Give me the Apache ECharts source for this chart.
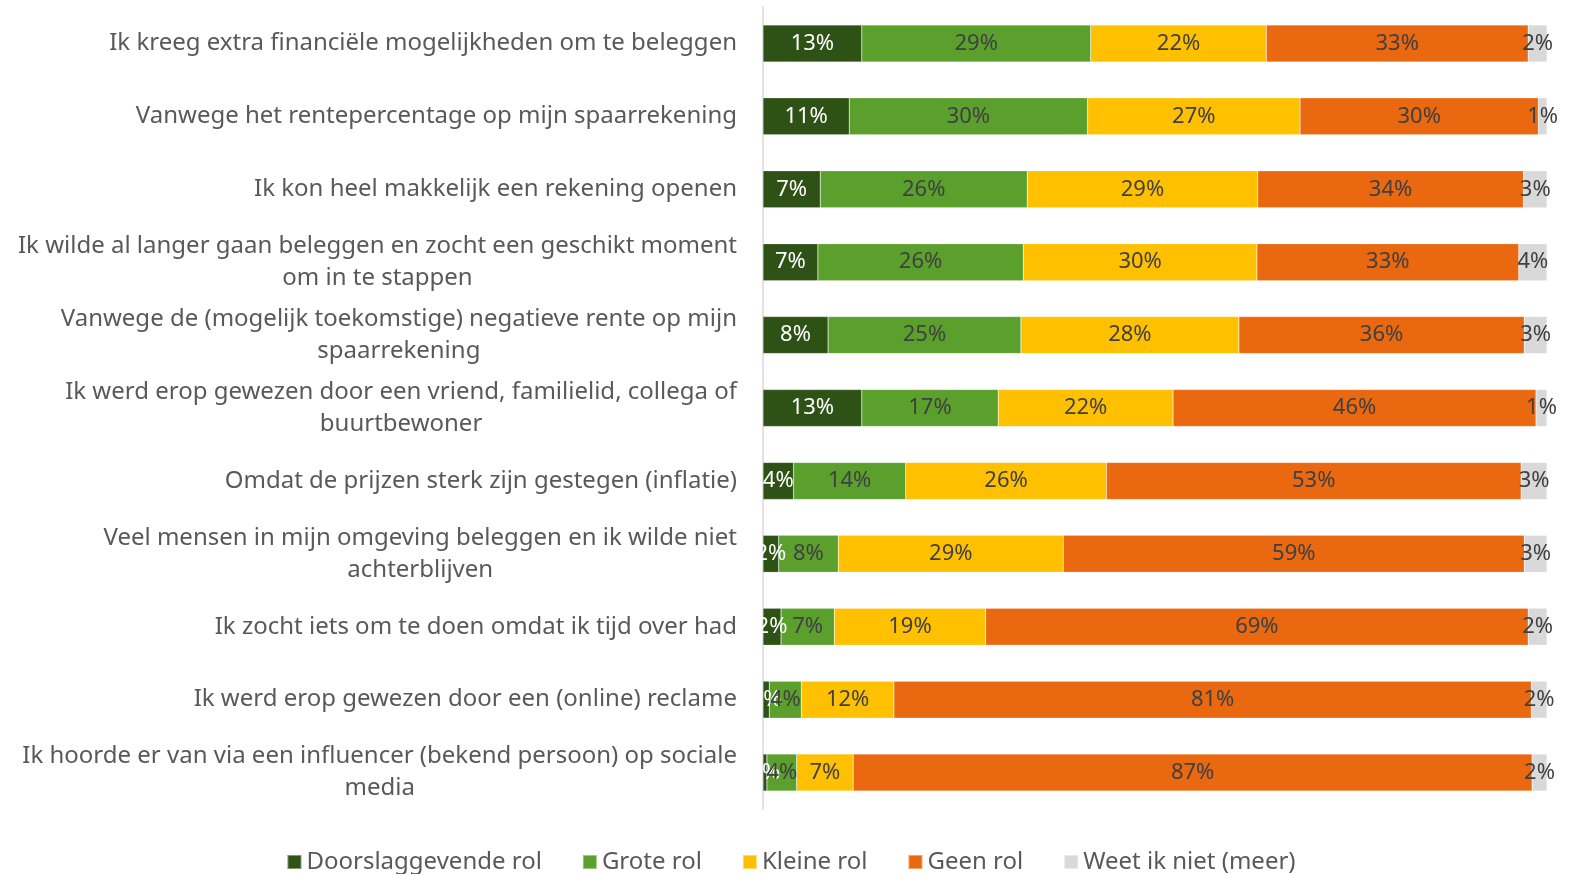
<!DOCTYPE html>
<html lang="nl">
<head>
<meta charset="utf-8">
<title>Redenen om te beleggen</title>
<script src="https://cdn.jsdelivr.net/npm/echarts@6/dist/echarts.min.js"></script>
<style>
html, body { margin: 0; padding: 0; background: #fff; }
#main { width: 1582px; height: 874px; }
</style>
</head>
<body>
<div id="main"></div>
<script>
// categorieen (van boven naar beneden)
var categories = [
  'Ik kreeg extra financiële mogelijkheden om te beleggen',
  'Vanwege het rentepercentage op mijn spaarrekening',
  'Ik kon heel makkelijk een rekening openen',
  'Ik wilde al langer gaan beleggen en zocht een geschikt moment\nom in te stappen',
  'Vanwege de (mogelijk toekomstige) negatieve rente op mijn\nspaarrekening',
  'Ik werd erop gewezen door een vriend, familielid, collega of\nbuurtbewoner',
  'Omdat de prijzen sterk zijn gestegen (inflatie)',
  'Veel mensen in mijn omgeving beleggen en ik wilde niet\nachterblijven',
  'Ik zocht iets om te doen omdat ik tijd over had',
  'Ik werd erop gewezen door een (online) reclame',
  'Ik hoorde er van via een influencer (bekend persoon) op sociale\nmedia'
];

var seriesNames = ['Doorslaggevende rol', 'Grote rol', 'Kleine rol', 'Geen rol', 'Weet ik niet (meer)'];

// percentages per antwoord
var doorslaggevend = [12.6, 11.0, 7.3, 7.0, 8.3, 12.6, 3.9, 2.0, 2.3, 0.8, 0.5];
var groot          = [29.2, 30.4, 26.4, 26.2, 24.6, 17.4, 14.3, 7.6, 6.8, 4.1, 3.8];
var klein          = [22.4, 27.1, 29.4, 29.8, 27.8, 22.3, 25.6, 28.7, 19.3, 11.8, 7.2];
var geen           = [33.4, 30.4, 33.9, 33.4, 36.4, 46.3, 52.9, 58.8, 69.2, 81.3, 86.6];
var weetNiet       = [2.4, 1.1, 3.0, 3.6, 2.9, 1.4, 3.3, 2.9, 2.4, 2.0, 1.9];

var colors = ['#2E5216', '#5BA02D', '#FFC000', '#E96810', '#D9D9D9'];
var labelColors = ['#ffffff', '#404040', '#404040', '#404040', '#404040'];
var values = [doorslaggevend, groot, klein, geen, weetNiet];

var FONT = 'Noto Sans';

var series = [];
for (var i = 0; i < seriesNames.length; i++) {
  series.push({
    name: seriesNames[i],
    type: 'bar',
    stack: 'totaal',
    barWidth: 37,
    data: values[i],
    itemStyle: { color: colors[i], borderColor: 'rgba(255,255,255,0.4)', borderWidth: 0.5 },
    label: {
      show: true,
      position: 'inside',
      color: labelColors[i],
      fontFamily: FONT,
      fontSize: 22,
      formatter: function (p) { return Math.round(p.value) + '%'; }
    },
    emphasis: { disabled: true }
  });
}

var chart = echarts.init(document.getElementById('main'));
chart.setOption({
  animation: false,
  color: colors,
  grid: { left: 763, right: 35, top: 7, bottom: 65 },
  xAxis: {
    type: 'value',
    min: 0,
    max: 100,
    show: false
  },
  yAxis: {
    type: 'category',
    inverse: true,
    data: categories,
    axisLine: { lineStyle: { color: '#D9D9D9', width: 1.5 } },
    axisTick: { length: 8, lineStyle: { color: '#D9D9D9', width: 1.5 } },
    axisLabel: {
      margin: 26,
      align: 'right',
      // elke regel gecentreerd binnen het tekstblok
      formatter: function (v) {
        return v.split('\n').map(function (s) { return '{c|' + s + '}'; }).join('\n');
      },
      rich: {
        c: {
          align: 'center',
          color: '#595959',
          fontFamily: FONT,
          fontSize: 24,
          lineHeight: 32
        }
      }
    }
  },
  legend: {
    bottom: -5,
    left: 'center',
    itemWidth: 14,
    itemHeight: 14,
    itemGap: 40,
    icon: 'rect',
    textStyle: { color: '#595959', fontFamily: FONT, fontSize: 24 },
    data: seriesNames
  },
  series: series
});
</script>
</body>
</html>
